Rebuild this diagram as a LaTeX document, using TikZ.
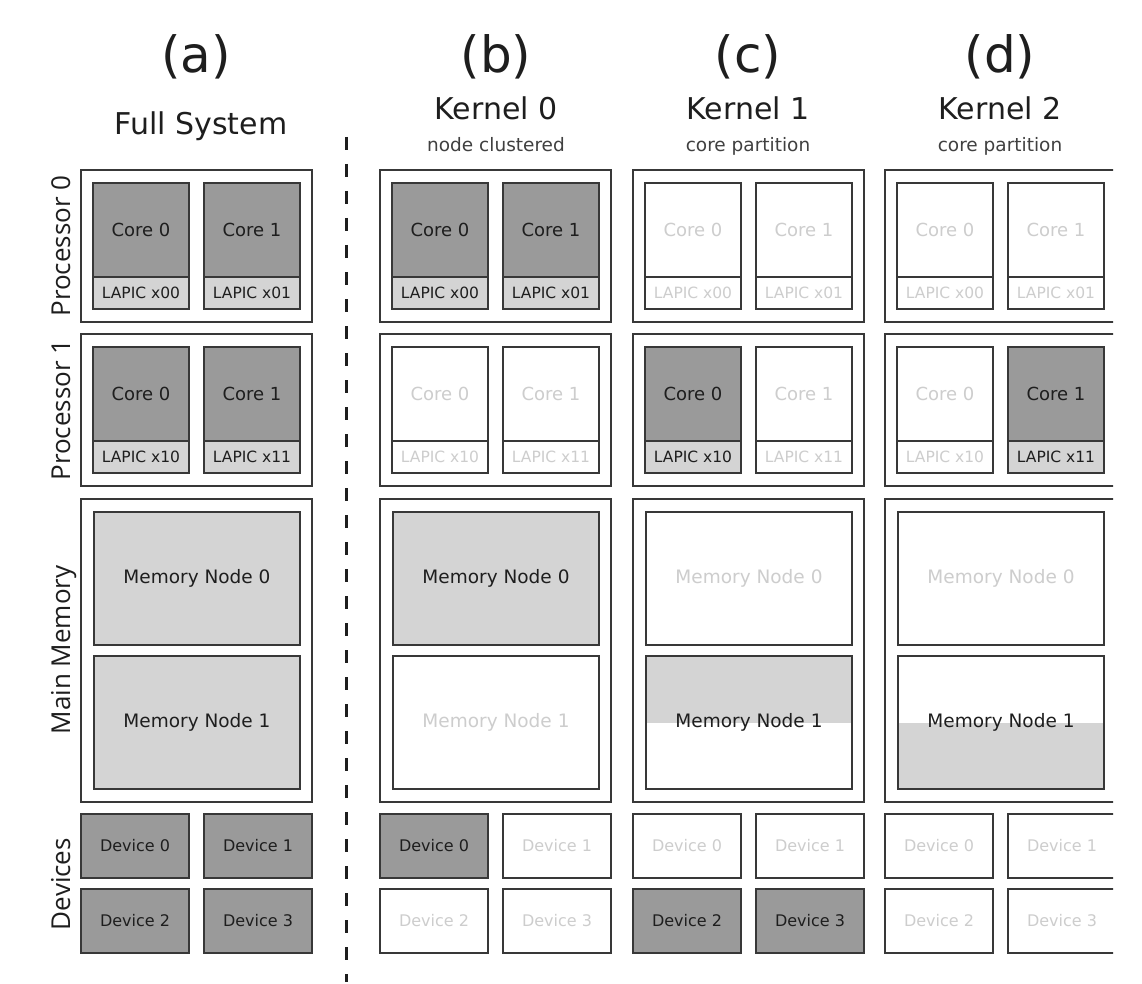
\documentclass[tikz,border=0pt]{standalone}
\usepackage{fontspec}
\setmainfont{DejaVu Sans}
\newfontfamily\sidefont{Open Sans}
\definecolor{dk}{HTML}{9A9A9A}
\definecolor{lt}{HTML}{D4D4D4}
\definecolor{ln}{HTML}{383838}
\definecolor{fd}{HTML}{CDCDCD}
\definecolor{tx}{HTML}{1E1E1E}
\newcommand\fsz[1]{\fontsize{#1}{#1}\selectfont}
\tikzset{
  box/.style={draw=ln, line width=1.3pt, inner sep=0pt, outer sep=0pt},
  outer/.style={box, line width=1.7pt, fill=white, anchor=north west, minimum width=231pt},
  coreon/.style={box, fill=dk, text=tx, font=\fsz{18}, minimum width=96pt, minimum height=94pt, anchor=north west},
  coreoff/.style={coreon, fill=white, text=fd},
  lapicon/.style={box, fill=lt, text=tx, font=\fsz{15.5}, minimum width=96pt, minimum height=32pt, anchor=north},
  lapicoff/.style={lapicon, fill=white, text=fd},
  memon/.style={box, fill=lt, text=tx, font=\fsz{18.5}, minimum width=206pt, minimum height=133pt, anchor=north west},
  memoff/.style={memon, fill=white, text=fd},
  memtop/.style={memon, fill=white, path picture={\fill[lt] (path picture bounding box.north west) rectangle (path picture bounding box.east);}},
  membot/.style={memon, fill=white, path picture={\fill[lt] (path picture bounding box.west) rectangle (path picture bounding box.south east);}},
  devon/.style={box, fill=dk, text=tx, font=\fsz{16}, minimum width=108pt, minimum height=64pt, anchor=north west},
  devoff/.style={devon, fill=white, text=fd},
  head/.style={anchor=base, text=tx, font=\fsz{50}},
  title/.style={anchor=base, text=tx, font=\fsz{30}},
  sub/.style={anchor=base, text=tx!85, font=\fsz{18.5}},
  side/.style={anchor=base, rotate=90, text=tx, font=\sidefont\fsz{26}},
}
\begin{document}
\begin{tikzpicture}[x=1pt, y=-1pt]
\useasboundingbox[fill=white] (0,0) rectangle (1142,984);
% headers
\node[head] (ha) at (196,73) {(a)};
\node[title] (ta) at (201,135) {Full System};
\node[head] (hb) at (496,73) {(b)};
\node[title] (tb) at (496,120) {Kernel 0};
\node[sub] (sb) at (496,152) {node clustered};
\node[head] (hc) at (748,73) {(c)};
\node[title] (tc) at (748,120) {Kernel 1};
\node[sub] (sc) at (748,152) {core partition};
\node[head] (hd) at (1000,73) {(d)};
\node[title] (td) at (1000,120) {Kernel 2};
\node[sub] (sd) at (1000,152) {core partition};
% side labels
\node[side] (lp0) at (70,246) {Processor 0};
\node[side] (lp1) at (70,410) {Processor 1};
\node[side] (lmm) at (70,650) {Main Memory};
\node[side] (ldv) at (70,884) {Devices};
% separator
\coordinate (dtop) at (346,137);
\coordinate (dbot) at (346,982);
\draw[tx, line width=3pt, dash pattern=on 13pt off 14pt] (dtop) -- (dbot);
% columns
\begin{scope}
\clip (0,0) rectangle (1113,984);
\foreach \c/\L/\pa/\pb/\pc/\pd/\ma/\mb/\da/\db/\dc/\dd in {
  a/81/on/on/on/on/on/on/on/on/on/on,
  b/380/on/on/off/off/on/off/on/off/off/off,
  c/633/off/off/on/off/off/top/off/off/on/on,
  d/885/off/off/off/on/off/bot/off/off/off/off}{
  \node[outer, minimum height=152pt] (\c-P0) at (\L,170) {};
  \node[core\pa] (\c-c00) at (\L+12,183) {Core 0};
  \node[lapic\pa] (\c-l00) at (\c-c00.south) {LAPIC x00};
  \node[core\pb] (\c-c01) at (\L+123,183) {Core 1};
  \node[lapic\pb] (\c-l01) at (\c-c01.south) {LAPIC x01};
  \node[outer, minimum height=152pt] (\c-P1) at (\L,334) {};
  \node[core\pc] (\c-c10) at (\L+12,347) {Core 0};
  \node[lapic\pc] (\c-l10) at (\c-c10.south) {LAPIC x10};
  \node[core\pd] (\c-c11) at (\L+123,347) {Core 1};
  \node[lapic\pd] (\c-l11) at (\c-c11.south) {LAPIC x11};
  \node[outer, minimum height=303pt] (\c-M) at (\L,499) {};
  \node[mem\ma] (\c-m0) at (\L+13,512) {Memory Node 0};
  \node[mem\mb] (\c-m1) at (\L+13,656) {Memory Node 1};
  \node[dev\da] (\c-d0) at (\L,814) {Device 0};
  \node[dev\db] (\c-d1) at (\L+123,814) {Device 1};
  \node[dev\dc] (\c-d2) at (\L,889) {Device 2};
  \node[dev\dd] (\c-d3) at (\L+123,889) {Device 3};
}
\end{scope}
\end{tikzpicture}
\end{document}
